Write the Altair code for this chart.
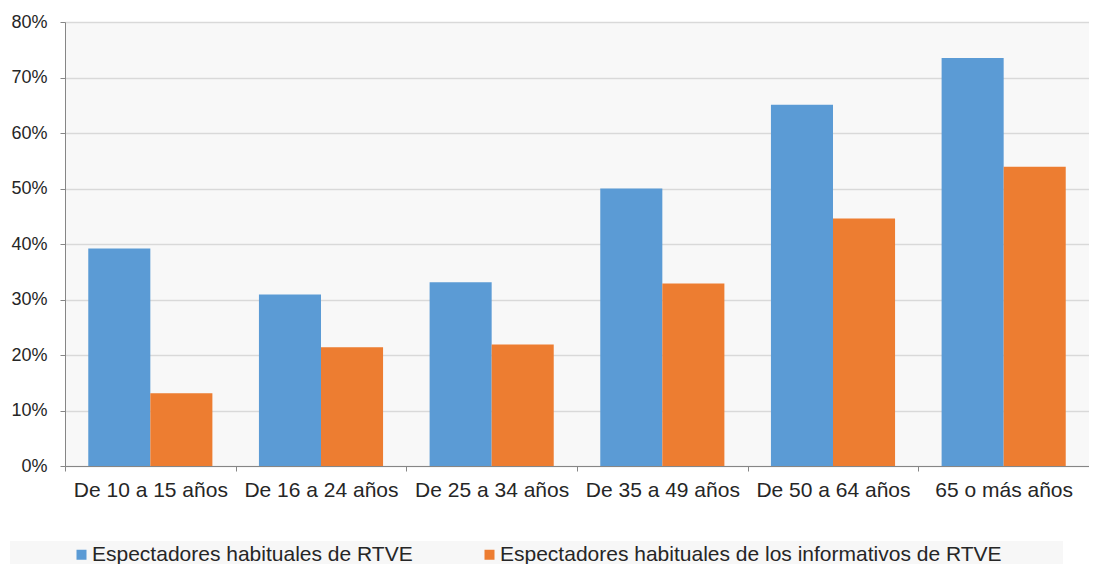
import altair as alt
import pandas as pd

categories = ["De 10 a 15 años", "De 16 a 24 años", "De 25 a 34 años",
              "De 35 a 49 años", "De 50 a 64 años", "65 o más años"]
series_names = ["Espectadores habituales de RTVE",
                "Espectadores habituales de los informativos de RTVE"]
rtve = [39.2, 30.9, 33.1, 50.0, 65.1, 73.5]
informativos = [13.1, 21.4, 21.9, 32.9, 44.6, 53.9]
colors = ["#5B9BD5", "#ED7D31"]

rows = []
for c, a, b in zip(categories, rtve, informativos):
    rows.append({"cat": c, "serie": series_names[0], "val": a})
    rows.append({"cat": c, "serie": series_names[1], "val": b})
df = pd.DataFrame(rows)

FONT = "Liberation Sans"

band = alt.Chart(pd.DataFrame({"d": [0]})).mark_rect(color="#F7F7F7").encode(
    x=alt.value(-55), x2=alt.value(998), y=alt.value(519), y2=alt.value(560)
)

bars = alt.Chart(df).mark_bar().encode(
    x=alt.X("cat:N", sort=categories, title=None,
            scale=alt.Scale(paddingInner=0, paddingOuter=0),
            axis=alt.Axis(labelAngle=0, labelFontSize=21, labelFont=FONT,
                          labelColor="#262626", tickBand="extent", tickSize=5,
                          tickColor="#868686", domainColor="#868686",
                          labelPadding=8, grid=False)),
    xOffset=alt.XOffset("serie:N", sort=series_names,
                        scale=alt.Scale(paddingInner=0, paddingOuter=0.375)),
    y=alt.Y("val:Q", title=None,
            scale=alt.Scale(domain=[0, 80], nice=False),
            axis=alt.Axis(values=[0, 10, 20, 30, 40, 50, 60, 70, 80],
                          labelExpr="datum.value + '%'", labelFontSize=18,
                          labelFont=FONT, labelColor="#262626", tickSize=5,
                          tickColor="#868686", domainColor="#868686",
                          labelPadding=13, gridColor="#D9D9D9", gridWidth=1.5)),
    color=alt.Color("serie:N", sort=series_names,
                    scale=alt.Scale(domain=series_names, range=colors),
                    legend=alt.Legend(title=None, orient="none", direction="horizontal",
                                      legendX=6, legendY=522, columns=2,
                                      columnPadding=66, symbolType="square",
                                      symbolSize=100, symbolStrokeWidth=0,
                                      labelFontSize=21, labelFont=FONT,
                                      labelColor="#262626", labelOffset=0,
                                      labelLimit=700)),
)

chart = alt.layer(band, bars).properties(
    width=1024, height=444,
    autosize=alt.AutoSizeParams(type="none"),
    padding={"left": 57, "top": 14, "right": 0, "bottom": 98},
).configure_view(fill="#F8F8F8", stroke=None)

chart.save("out.html", embed_options={"renderer": "svg", "actions": False})
